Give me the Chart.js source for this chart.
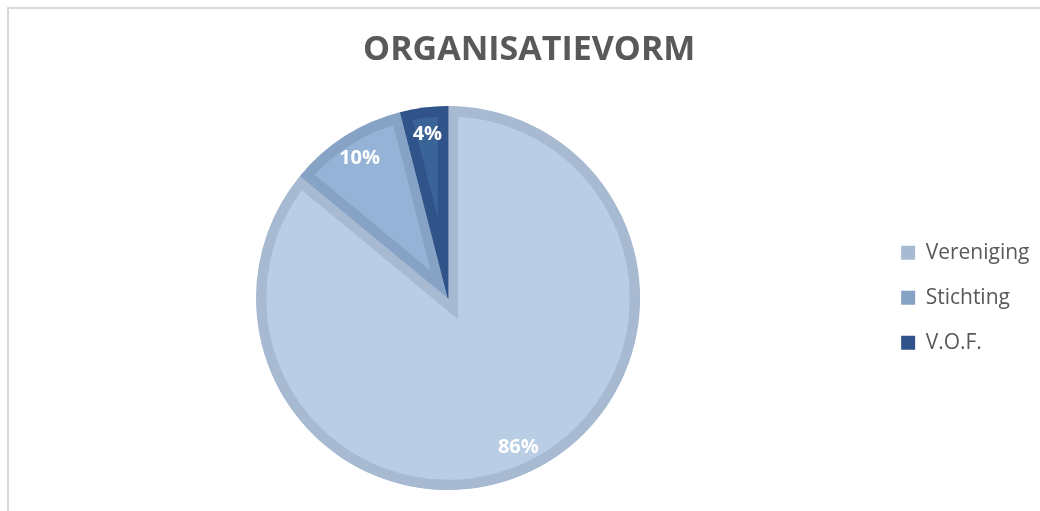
<!DOCTYPE html>
<html>
<head>
<meta charset="utf-8">
<script src="https://cdn.jsdelivr.net/npm/chart.js@4"></script>
<style>
    html, body { margin: 0; padding: 0; background: #fff; overflow: hidden; }
    body { width: 1040px; height: 511px; position: relative; }
    .kader { position: absolute; left: 7px; top: 7px; width: 1100px; height: 600px;
             border-left: 2px solid #d9d9d9; border-top: 2px solid #d9d9d9; }
    .grafiek { position: absolute; left: 0; top: 9px; width: 1054px; height: 502px; }
</style>
</head>
<body>
<div class="kader"></div>
<div class="grafiek"><canvas id="organisatievorm"></canvas></div>
<script>
// Gegevens
const categorieen = ["Vereniging", "Stichting", "V.O.F."];
const percentages = [86, 10, 4];

const vulKleuren = ["#b9cde5", "#95b3d7", "#3a6398"];
const randKleuren = ["#a7bad2", "#86a3c5", "#30548a"];

// Percentages in de taartpunten tekenen
const percentageLabels = {
    id: "percentageLabels",
    afterDatasetsDraw(chart) {
        const ctx = chart.ctx;
        const meta = chart.getDatasetMeta(0);
        ctx.save();
        ctx.fillStyle = "#ffffff";
        ctx.font = "bold 20px 'Open Sans'";
        ctx.textAlign = "center";
        ctx.textBaseline = "middle";
        meta.data.forEach((arc, i) => {
            const p = arc.getProps(["x", "y", "startAngle", "endAngle", "outerRadius"], true);
            const hoek = (p.startAngle + p.endAngle) / 2;
            const r = p.outerRadius * 0.86;
            ctx.fillText(percentages[i] + "%", p.x + Math.cos(hoek) * r, p.y + Math.sin(hoek) * r);
        });
        ctx.restore();
    }
};

const ctx = document.getElementById("organisatievorm").getContext("2d");
new Chart(ctx, {
    type: "pie",
    data: {
        labels: categorieen,
        datasets: [
            {
                data: percentages,
                backgroundColor: vulKleuren,
                borderColor: randKleuren,
                borderWidth: 10,
                borderAlign: "inner",
                borderJoinStyle: "miter",
                hoverOffset: 0,
            },
        ],
    },
    options: {
        responsive: true,
        maintainAspectRatio: false,
        animation: false,
        radius: 192,
        layout: { padding: { left: 19, right: 14.5, top: 0, bottom: 13 } },
        plugins: {
            title: {
                display: true,
                text: "ORGANISATIEVORM",
                color: "#595959",
                font: { family: "'Open Sans'", size: 34, weight: "bold" },
                padding: { top: 21, bottom: 27.4 },
            },
            legend: {
                position: "right",
                title: {
                    display: true,
                    text: "",
                    font: { size: 12 },
                    padding: { top: 37, bottom: 37 },
                },
                labels: {
                    color: "#595959",
                    font: { family: "'Open Sans'", size: 21 },
                    boxWidth: 14,
                    boxHeight: 14,
                    padding: 24,
                    generateLabels(chart) {
                        return categorieen.map((naam, i) => ({
                            text: naam,
                            fillStyle: randKleuren[i],
                            strokeStyle: randKleuren[i],
                            lineWidth: 0,
                            fontColor: "#595959",
                            index: i,
                            hidden: false,
                        }));
                    },
                },
            },
            tooltip: { enabled: false },
        },
    },
    plugins: [percentageLabels],
});
</script>
</body>
</html>
